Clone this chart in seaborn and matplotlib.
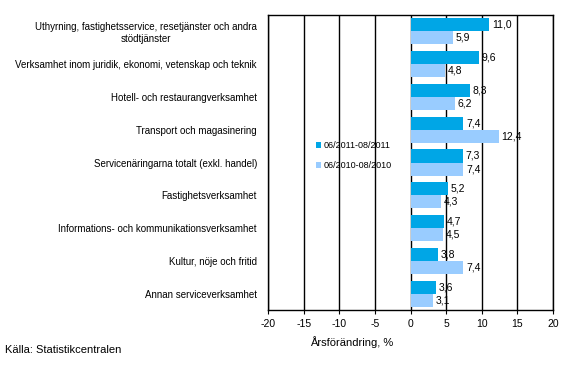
import pandas as pd
import seaborn as sns
import matplotlib.pyplot as plt

# kategorier och varden (arsforandring, %)
kategorier = [
    'Uthyrning, fastighetsservice, resetjänster och andra\nstödtjänster',
    'Verksamhet inom juridik, ekonomi, vetenskap och teknik',
    'Hotell- och restaurangverksamhet',
    'Transport och magasinering',
    'Servicenäringarna totalt (exkl. handel)',
    'Fastighetsverksamhet',
    'Informations- och kommunikationsverksamhet',
    'Kultur, nöje och fritid',
    'Annan serviceverksamhet',
]
serier = ['06/2011-08/2011', '06/2010-08/2010']
varden_2011 = [11.0, 9.6, 8.3, 7.4, 7.3, 5.2, 4.7, 3.8, 3.6]
varden_2010 = [5.9, 4.8, 6.2, 12.4, 7.4, 4.3, 4.5, 7.4, 3.1]
farger = ['#00A6E6', '#99CCFF']

df = pd.DataFrame({
    'kategori': kategorier * 2,
    'period': [serier[0]] * len(kategorier) + [serier[1]] * len(kategorier),
    'varde': varden_2011 + varden_2010,
})

sns.set_style('white')
plt.rcParams['font.family'] = ['Liberation Sans', 'DejaVu Sans']
plt.rcParams['axes.unicode_minus'] = False
plt.rcParams['text.color'] = 'black'
plt.rcParams['xtick.color'] = 'black'
plt.rcParams['ytick.color'] = 'black'
plt.rcParams['axes.labelcolor'] = 'black'

fig = plt.figure(figsize=(5.69, 3.74), dpi=100)
ax = fig.add_axes([0.471, 0.171, 0.501, 0.789])

sns.barplot(data=df, x='varde', y='kategori', hue='period', orient='h',
            palette=farger, width=0.8, saturation=1, linewidth=0, ax=ax, zorder=3)

for cont in ax.containers:
    ax.bar_label(cont, labels=[f'{v:.1f}'.replace('.', ',') for v in cont.datavalues],
                 padding=2, fontsize=7.5)

ax.set_xlim(-20, 20)
ax.set_xticks(range(-20, 21, 5))
ax.tick_params(axis='x', labelsize=7.5, length=3, direction='out', bottom=True)
ax.tick_params(axis='y', labelsize=7, length=0, pad=8)
ax.grid(axis='x', color='black', linewidth=1, zorder=0)
for lab in ax.get_yticklabels():
    lab.set_multialignment('center')
for s in ax.spines.values():
    s.set_color('black')
    s.set_linewidth(1)

ax.set_ylabel('')
ax.set_xlabel('Årsförändring, %', fontsize=8)
ax.xaxis.set_label_coords(0.295, -0.09)

ax.legend(title=None, loc='upper left', bbox_to_anchor=(0.14, 0.6), frameon=False,
          fontsize=6.5, handlelength=0.6, handleheight=0.6, handletextpad=0.2,
          labelspacing=1.2)

fig.text(0.009, 0.055, 'Källa: Statistikcentralen', fontsize=8)

fig.savefig('out.png', dpi=100)
